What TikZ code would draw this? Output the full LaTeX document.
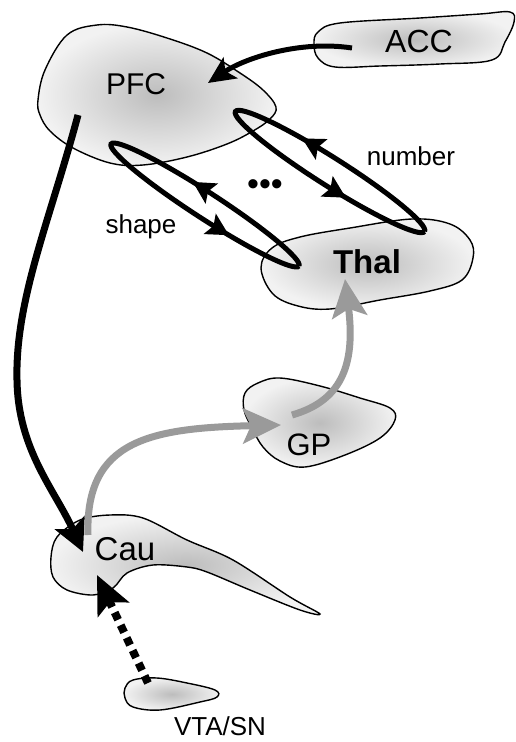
\documentclass[tikz,border=0pt]{standalone}
\usepackage{fontspec}
\setmainfont{Liberation Sans}
\usetikzlibrary{arrows.meta,decorations.markings}
\definecolor{arrgray}{HTML}{9A9A9A}
\tikzset{
  x=1pt, y=-1pt,
  blob/.style={draw=black, line width=1.4pt, inner color=black!26, outer color=black!5},
  lbl/.style={inner sep=0pt, anchor=base},
  blk/.style={line width=5pt, black},
  thick7/.style={line width=7pt},
  graytip/.style={-{Stealth[length=38pt,width=35pt,inset=8pt]}},
  looptip/.tip={Stealth[length=22pt,width=23pt,inset=4pt]},
  loopline/.style={line width=5pt, black, postaction={decorate}},
}
\begin{document}
\begin{tikzpicture}
\useasboundingbox (0,0) rectangle (516,742);

% ---- blobs ----
\path[blob] plot[smooth cycle, tension=0.6] coordinates {
 (38,100) (45,70) (67,35) (97,25) (127,27) (167,38) (207,53) (240,73)
 (263,90) (276,107) (270,119) (253,131) (227,144) (187,157) (143,165)
 (110,163) (73,148) (50,131) (40,115)};
\path[blob] plot[smooth cycle, tension=0.6] coordinates {
 (318,32) (340,23) (420,18) (480,14) (510,12) (514,22) (505,42) (492,60)
 (440,64) (380,66) (335,67) (318,58) (314,44)};
\path[blob] plot[smooth cycle, tension=0.6] coordinates {
 (261,268) (272,248) (300,237) (350,228) (412,219) (450,224) (470,240)
 (473,258) (462,280) (430,291) (380,300) (330,309) (298,306) (273,294)};
\path[blob] plot[smooth cycle, tension=0.6] coordinates {
 (245,393) (258,383) (280,378) (320,386) (360,398) (390,408) (395,420)
 (380,438) (345,455) (305,467) (280,461) (263,447) (252,428) (244,410)};
\path[blob] plot[smooth cycle, tension=0.55] coordinates {
 (51,557) (57,537) (80,520) (110,515) (143,518) (187,540) (233,560)
 (290,597) (320,614) (300,610) (250,590) (207,572) (187,567) (153,565)
 (127,573) (113,588) (93,595) (67,590) (53,577)};
\path[blob] plot[smooth cycle, tension=0.6] coordinates {
 (125,688) (133,680) (157,678) (187,683) (215,690) (217,697) (200,702)
 (160,710) (133,707) (125,698)};

% ---- labels ----
\node[lbl, font=\fontsize{30}{36}\selectfont] (pfc) at (136,94) {PFC};
\node[lbl, font=\fontsize{32}{38}\selectfont] (acc) at (419,52) {ACC};
\node[lbl, font=\fontsize{33}{38}\selectfont\bfseries] (thal) at (367,273) {Thal};
\node[lbl, font=\fontsize{31}{36}\selectfont] (gp) at (309,455) {GP};
\node[lbl, font=\fontsize{33}{38}\selectfont] (cau) at (125,560) {Cau};
\node[lbl, font=\fontsize{26}{30}\selectfont] (vta) at (220,735) {VTA/SN};
\node[lbl, font=\fontsize{26}{30}\selectfont] (shape) at (141,233) {shape};
\node[lbl, font=\fontsize{26}{30}\selectfont] (number) at (411,165) {number};
\node[inner sep=0pt, font=\fontsize{34}{38}\selectfont] (dots) at (265,188) {•••};

% ---- connector end points ----
\coordinate (accS) at (352,48);
\coordinate (pfcE) at (208,83);
\coordinate (pfcS) at (78,115);
\coordinate (cauE) at (83,552);
\coordinate (cauS) at (88,535);
\coordinate (gpE) at (281,425);
\coordinate (gpS) at (292,415);
\coordinate (thalE) at (345,279);
\coordinate (vtaS) at (148,683);
\coordinate (cauE2) at (97,575);

% ---- loops PFC <-> Thal ----
\begin{scope}[shift={(205,205)}, rotate=-33]
  \coordinate (shapeT) at (112,0);
  \draw[loopline, decoration={markings,
      mark=at position 0.30 with {\arrow{looptip}},
      mark=at position 0.83 with {\arrow{looptip}}}]
    (shapeT) arc[start angle=0, end angle=-360, x radius=112, y radius=13];
\end{scope}
\begin{scope}[shift={(330,171.5)}, rotate=-32.4]
  \coordinate (numT) at (112,0);
  \draw[loopline, decoration={markings,
      mark=at position 0.34 with {\arrow{looptip}},
      mark=at position 0.81 with {\arrow{looptip}}}]
    (numT) arc[start angle=0, end angle=-360, x radius=112, y radius=14];
\end{scope}

% ---- arrows ----
\draw[blk, -{Stealth[length=27pt,width=25pt,inset=6pt]}]
  (accS) .. controls (300,40) and (245,58) .. (pfcE);
\draw[line width=7pt, black, -{Stealth[length=32pt,width=32pt,inset=7pt]}]
  (pfcS) .. controls (50,220) and (15,300) .. (17,380)
         .. controls (18,450) and (55,490) .. (cauE);
\draw[thick7, arrgray, graytip]
  (cauS) .. controls (85,440) and (150,428) .. (gpE);
\draw[thick7, arrgray, graytip]
  (gpS) .. controls (345,400) and (355,360) .. (thalE);
\draw[line width=8pt, black, dash pattern=on 8pt off 6pt,
      -{Stealth[length=38pt,width=34pt,inset=8pt]}]
  (vtaS) -- (cauE2);
\end{tikzpicture}
\end{document}
